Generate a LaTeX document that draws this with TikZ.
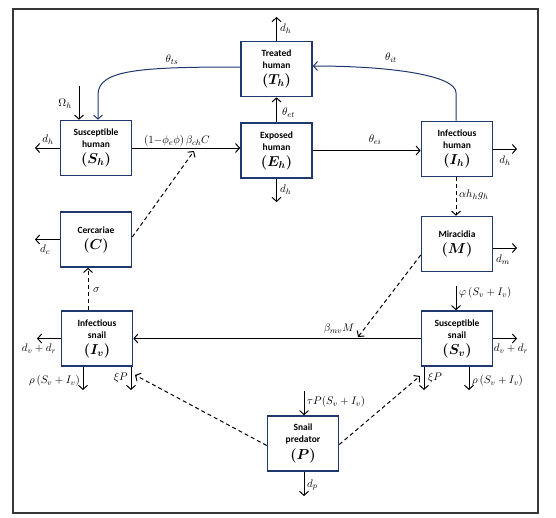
\documentclass[tikz,border=0pt]{standalone}
\usepackage{fontspec}
\newfontfamily\boxfont{Carlito}
\usetikzlibrary{arrows.meta}
\definecolor{navy}{RGB}{31,56,110}
\definecolor{framegray}{RGB}{55,55,55}
\newcommand\bigsym[1]{{\fontsize{14}{16}\selectfont\boldmath$(#1)$}}
\begin{document}
\begin{tikzpicture}[x=1pt,y=-1pt,
  box/.style={draw=navy,line width=1.6pt,minimum width=71pt,minimum height=55pt,inner sep=0pt,align=center,
    font=\boxfont\bfseries\fontsize{9.5}{12}\selectfont},
  arr/.style={line width=1pt,-{Straight Barb[length=4pt,width=9pt]}},
  darr/.style={arr,dash pattern=on 4pt off 3pt},
  lbl/.style={inner sep=1pt,font=\fontsize{11}{13}\selectfont},
  curve/.style={draw=navy,line width=1pt,-{Straight Barb[length=4pt,width=9pt]}}]
\useasboundingbox (0,0) rectangle (556,517);
\draw[framegray,line width=2pt] (13,9) rectangle (538,513);

% compartments
\node[box] (T)  at (276.5,69)  {Treated\\human\\[4pt]\bigsym{T_h}};
\node[box] (Sh) at (96,148)    {Susceptible\\human\\[4pt]\bigsym{S_h}};
\node[box] (E)  at (276.5,150.5) {Exposed\\human\\[4pt]\bigsym{E_h}};
\node[box] (Ih) at (457,149)   {Infectious\\human\\[4pt]\bigsym{I_h}};
\node[box] (C)  at (96,239.5)  {Cercariae\\[4pt]\bigsym{C}};
\node[box] (M)  at (457,244)   {Miracidia\\[4pt]\bigsym{M}};
\node[box] (Iv) at (97,338.5)  {Infectious\\snail\\[4pt]\bigsym{I_v}};
\node[box] (Sv) at (457,338.5) {Susceptible\\snail\\[4pt]\bigsym{S_v}};
\node[box] (P)  at (303,443.5) {Snail\\predator\\[4pt]\bigsym{P}};

% free ends
\coordinate (Tup) at (276.5,17);
\coordinate (Om)  at (79,86);
\coordinate (Shl) at (35,148);
\coordinate (Cin) at (194,151);
\coordinate (Cl)  at (35,239.5);
\coordinate (Ed)  at (276.5,202);
\coordinate (Ihr) at (517,149);
\coordinate (Mr)  at (517,248);
\coordinate (bmv) at (358,337);
\coordinate (phi) at (456,286);
\coordinate (Svr) at (517,338.5);
\coordinate (Ivl) at (37,338.5);
\coordinate (rI)  at (83,390);
\coordinate (xI)  at (131,390);
\coordinate (xIh) at (135,375);
\coordinate (xS)  at (424,390);
\coordinate (xSh) at (420,376);
\coordinate (rS)  at (469,390);
\coordinate (tau) at (304,391);
\coordinate (dp)  at (304,496);

% human part
\draw[arr] (T.north) -- (Tup);
\node[lbl,anchor=west] at (279,29) {$d_h$};
\draw[curve] ([yshift=2pt]T.west) .. controls +(-100,0) and +(0,-25) .. ([xshift=2pt,yshift=25pt]Sh.north) -- ([xshift=2pt]Sh.north);
\node[lbl] at (172,60) {$\theta_{ts}$};
\draw[curve] ([xshift=-1pt]Ih.north) -- ++(0,-28) .. controls +(0,-17) and +(80,0) .. ([yshift=3pt]T.east);
\node[lbl] at (391,58) {$\theta_{it}$};
\draw[arr] (Om) -- (Om |- Sh.north);
\node[lbl,anchor=east] at (73,104) {$\Omega_h$};
\draw[arr] (Sh.west) -- (Shl);
\node[lbl] at (48,140) {$d_h$};
\draw[arr] (Sh.east) -- (Sh.east -| E.west);
\node[lbl] at (177,141) {$\left(1{-}\phi_e\phi\right)\beta_{ch}C$};
\draw[arr] (E.north) -- (T.south);
\node[lbl,anchor=west] at (281,113) {$\theta_{et}$};
\draw[arr] (E.south) -- (Ed);
\node[lbl,anchor=west] at (279,190) {$d_h$};
\draw[arr] (E.east) -- (E.east -| Ih.west);
\node[lbl] at (375,140) {$\theta_{ei}$};
\draw[arr] (Ih.east |- Ihr) -- (Ihr);
\node[lbl] at (505,161) {$d_h$};
\draw[darr] ([xshift=-1pt]Ih.south) -- ([xshift=-1pt]M.north);
\node[lbl,anchor=west] at (458,195) {$\alpha h_h g_h$};

% parasites
\draw[darr] ([yshift=2.5pt]C.east) -- (Cin);
\draw[arr] (C.west) -- (Cl);
\node[lbl] at (45,250) {$d_c$};
\draw[arr] (M.east |- Mr) -- (Mr);
\node[lbl] at (503,260) {$d_m$};
\draw[darr] ([yshift=-11pt]M.west) -- (bmv);

% snails
\draw[arr] (phi) -- (phi |- Sv.north);
\node[lbl,anchor=west] at (458,293) {$\varphi\left(S_v+I_v\right)$};
\draw[arr] (Sv.west) -- (Iv.east);
\node[lbl] at (339,329) {$\beta_{mv}M$};
\draw[arr] (Sv.east) -- (Svr);
\node[lbl] at (511,349) {$d_v+d_r$};
\draw[arr] (Iv.west) -- (Ivl);
\node[lbl] at (39,349) {$d_v+d_r$};
\draw[darr] ([xshift=-9pt]Iv.north) -- ([xshift=-9pt]Iv.north |- C.south);
\node[lbl,anchor=west] at (92,290) {$\sigma$};
\draw[arr] (rI |- Iv.south) -- (rI);
\node[lbl,anchor=east] at (81,381) {$\rho\left(S_v+I_v\right)$};
\draw[arr] (xI |- Iv.south) -- (xI);
\node[lbl,anchor=east] at (129,378) {$\xi P$};
\draw[arr] (xS |- Sv.south) -- (xS);
\node[lbl,anchor=west] at (427,378) {$\xi P$};
\draw[arr] (rS |- Sv.south) -- (rS);
\node[lbl,anchor=west] at (471,381) {$\rho\left(S_v+I_v\right)$};

% predator
\draw[darr] ([yshift=-2pt]P.west) -- (xIh);
\draw[darr] ([yshift=-1pt]P.east) -- (xSh);
\draw[arr] (tau) -- (tau |- P.north);
\node[lbl,anchor=west] at (306,402) {$\tau P(S_v+I_v)$};
\draw[arr] (tau |- P.south) -- (dp);
\node[lbl,anchor=west] at (306,485) {$d_p$};
\end{tikzpicture}
\end{document}
